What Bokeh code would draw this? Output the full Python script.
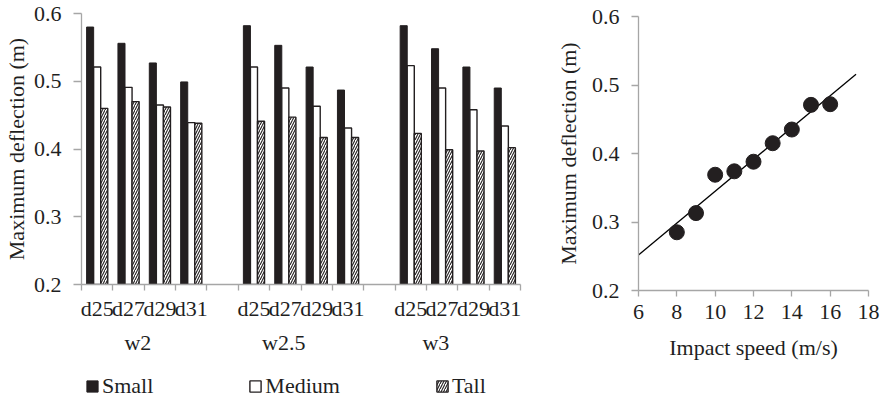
import numpy as np
from bokeh.plotting import figure
from bokeh.layouts import row, column
from bokeh.models import (Range1d, LinearAxis, FixedTicker, Legend, LegendItem, ColumnDataSource)
from bokeh.transform import dodge
from bokeh.embed import file_html
from bokeh.resources import INLINE

# ---------------- data ----------------
widths = ["w2", "w2.5", "w3"]
depths = ["d25", "d27", "d29", "d31"]
small = [0.580, 0.556, 0.527, 0.499, 0.582, 0.553, 0.521, 0.487, 0.582, 0.548, 0.521, 0.490]
medium = [0.521, 0.491, 0.465, 0.439, 0.521, 0.490, 0.463, 0.431, 0.523, 0.490, 0.458, 0.434]
tall = [0.460, 0.470, 0.462, 0.438, 0.441, 0.447, 0.417, 0.417, 0.423, 0.399, 0.397, 0.402]
series_names = ["Small", "Medium", "Tall"]
y_ticks = [0.2, 0.3, 0.4, 0.5, 0.6]

speed = [8, 9, 10, 11, 12, 13, 14, 15, 16]
deflection = [0.285, 0.313, 0.369, 0.374, 0.388, 0.415, 0.435, 0.471, 0.472]
speed_ticks = [6, 8, 10, 12, 14, 16, 18]
trend_span = [6, 17.35]

# ---------------- style ----------------
FONT = "Liberation Serif"
FS = "22px"
TXT = "#1f1f1f"
AXC = "#a6a6a6"
BLACK = "#231f20"
H = 399
LH = 34          # height of the legend strip under the bar chart
H1 = H - LH


def style_axis(ax, tick_out, standoff):
    ax.axis_line_color = AXC
    ax.axis_line_width = 1.3
    ax.major_tick_line_color = AXC
    ax.major_tick_line_width = 1.3
    ax.major_tick_out = tick_out
    ax.major_tick_in = 0
    ax.minor_tick_line_color = None
    ax.major_label_standoff = standoff
    ax.major_label_text_font = FONT
    ax.major_label_text_font_size = FS
    ax.major_label_text_color = TXT
    ax.axis_label_text_font = FONT
    ax.axis_label_text_font_size = FS
    ax.axis_label_text_color = TXT
    ax.axis_label_text_font_style = "normal"


BAR_COLS = ["small", "medium", "tall"]
BAR_STYLES = [
    dict(fill_color=BLACK, line_color=BLACK, line_width=1),
    dict(fill_color="white", line_color=BLACK, line_width=1.4),
    dict(fill_color="white", line_color=BLACK, line_width=1.4,
         hatch_pattern="/", hatch_color=BLACK, hatch_scale=5, hatch_weight=1.1),
]

# ---------------- left: grouped bars ----------------
# category slots: each width group holds the depths, with one blank slot between groups
per_group = len(depths) + 1
slot_x = [g * per_group + i + 0.5 for g in range(len(widths)) for i in range(len(depths))]
slot_lbl = [d for _ in widths for d in depths]
n_slots = len(widths) * per_group - 1

p1 = figure(x_range=Range1d(0, n_slots), y_range=Range1d(0.2, 0.6), width=552, height=H1,
            output_backend="svg", toolbar_location=None,
            x_axis_location=None, y_axis_location=None,
            min_border_left=79, min_border_right=32, min_border_top=13,
            min_border_bottom=H1 - 284, outline_line_color=None,
            background_fill_color="white", border_fill_color="white")
p1.grid.visible = False

src = ColumnDataSource(dict(x=slot_x, small=small, medium=medium, tall=tall))
bw = 0.225
offsets = [-bw, 0, bw]
for col, off, st in zip(BAR_COLS, offsets, BAR_STYLES):
    p1.vbar(x=dodge("x", off), top=col, bottom=0, width=bw, source=src, **st)

yax1 = LinearAxis(ticker=FixedTicker(ticks=y_ticks), axis_label="Maximum deflection (m)")
style_axis(yax1, 8, 12)
yax1.axis_label_standoff = 2
p1.add_layout(yax1, "left")

# boundary ticks
bounds = list(range(n_slots + 1))
ax_ticks = LinearAxis(ticker=FixedTicker(ticks=bounds))
style_axis(ax_ticks, 6, 0)
ax_ticks.major_label_overrides = {b: "" for b in bounds}
ax_ticks.major_label_text_font_size = "1px"
p1.add_layout(ax_ticks, "below")

# sub-category labels
ax_sub = LinearAxis(ticker=FixedTicker(ticks=slot_x))
style_axis(ax_sub, 0, 5)
ax_sub.axis_line_color = None
ax_sub.major_tick_line_color = None
ax_sub.major_label_overrides = {x: l for x, l in zip(slot_x, slot_lbl)}
p1.add_layout(ax_sub, "below")

# group labels
group_pos = [1.8, 6.45, 11.3]
ax_grp = LinearAxis(ticker=FixedTicker(ticks=group_pos))
style_axis(ax_grp, 0, 6)
ax_grp.axis_line_color = None
ax_grp.major_tick_line_color = None
ax_grp.major_label_overrides = {pos: name for pos, name in zip(group_pos, widths)}
p1.add_layout(ax_grp, "below")

# ---------------- legend strip (zero-width copies of the bars, used only as legend keys) ----------------
pl = figure(title=None, x_range=Range1d(0, n_slots), y_range=Range1d(100, 101), width=552, height=LH,
            output_backend="svg", toolbar_location=None,
            x_axis_location=None, y_axis_location=None, min_border=0,
            outline_line_color=None, background_fill_color="white", border_fill_color="white")
pl.grid.visible = False
keys = [pl.vbar(x=dodge("x", off), top=col, bottom=0, width=0, source=src, **st)
        for col, off, st in zip(BAR_COLS, offsets, BAR_STYLES)]
legend = Legend(items=[LegendItem(label=n, renderers=[k]) for n, k in zip(series_names, keys)],
                orientation="horizontal", location=(4, 0), glyph_width=14, glyph_height=14,
                label_standoff=3, spacing=95, padding=0, margin=0,
                border_line_color=None, background_fill_alpha=0,
                label_text_font=FONT, label_text_font_size=FS, label_text_color=TXT)
pl.add_layout(legend)

# ---------------- right: scatter with trend ----------------
p2 = figure(x_range=Range1d(6, 18), y_range=Range1d(0.2, 0.6), width=328, height=H,
            output_backend="svg", toolbar_location=None,
            min_border_left=80, min_border_right=12, min_border_top=16,
            min_border_bottom=H - 290, outline_line_color=None,
            background_fill_color="white", border_fill_color="white")
p2.grid.visible = False
p2.xaxis.ticker = FixedTicker(ticks=speed_ticks)
p2.yaxis.ticker = FixedTicker(ticks=y_ticks)
p2.xaxis.axis_label = "Impact speed (m/s)"
p2.yaxis.axis_label = "Maximum deflection (m)"
for ax in p2.xaxis:
    style_axis(ax, 6, 8)
    ax.axis_label_standoff = 13
for ax in p2.yaxis:
    style_axis(ax, 7, 12)
    ax.axis_label_standoff = 8

coef = np.polyfit(speed, deflection, 1)
tx = np.array(trend_span, dtype=float)
p2.line(tx, np.polyval(coef, tx), line_color="black", line_width=1.3)
p2.scatter(speed, deflection, size=15, fill_color=BLACK, line_color=BLACK)

layout = row(column(p1, pl), p2)
open("out.html", "w").write(file_html(layout, INLINE))
